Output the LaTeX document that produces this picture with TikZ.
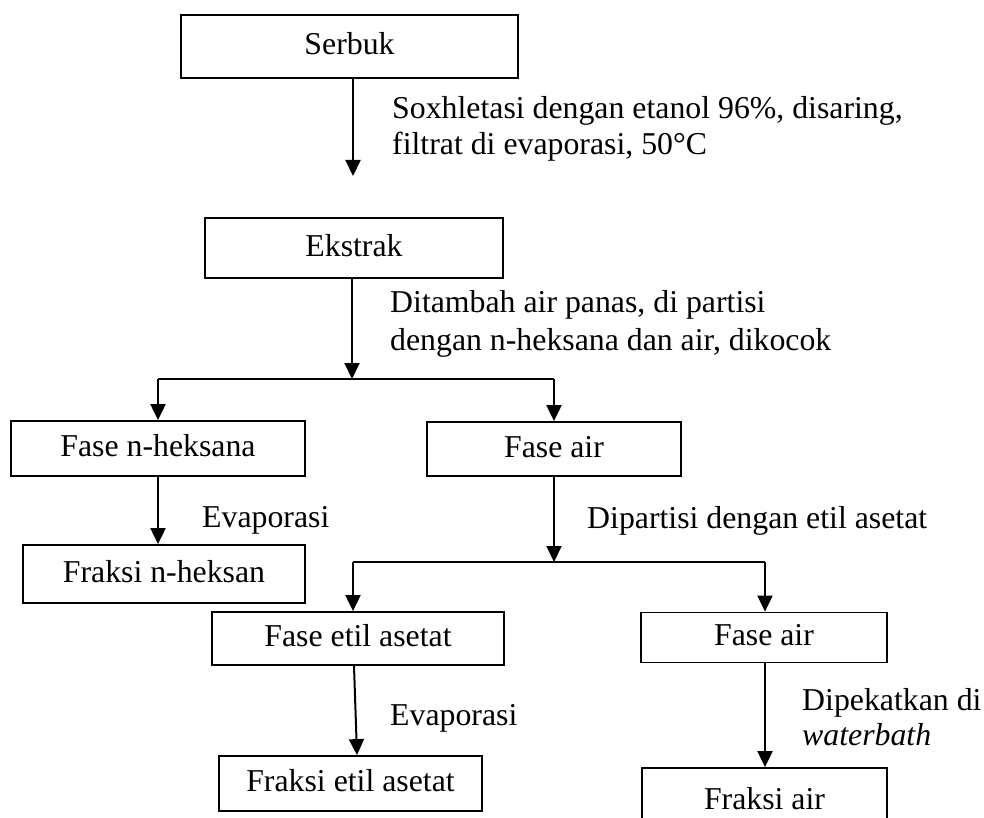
\documentclass[tikz,border=0pt]{standalone}
\usepackage{fontspec}
\setmainfont{Liberation Serif}
\usetikzlibrary{arrows.meta}
\begin{document}
\begin{tikzpicture}[x=1pt,y=-1pt,
  font=\fontsize{31.8}{38}\selectfont,
  box/.style={draw,line width=1.8pt,inner sep=0pt,text height=22pt,text depth=6pt},
  flow/.style={line width=2pt,-{Triangle[length=16pt,width=15pt]}},
  conn/.style={line width=2pt},
  lbl/.style={anchor=base west,inner sep=0pt}]
\clip (0,0) rectangle (984,818);
\fill[white] (0,0) rectangle (984,818);
% boxes
\node[box,minimum width=337pt,minimum height=63pt] (serbuk) at (349.5,46.5) {Serbuk};
\node[box,minimum width=298pt,minimum height=60pt] (ekstrak) at (354,248) {Ekstrak};
\node[box,minimum width=294pt,minimum height=55pt] (heks) at (158,448.5) {Fase n-heksana};
\node[box,minimum width=254pt,minimum height=54pt] (air1) at (554,449) {Fase air};
\node[box,minimum width=282pt,minimum height=58pt] (fheks) at (164,574) {Fraksi n-heksan};
\node[box,minimum width=292pt,minimum height=53pt] (etil) at (358,638.5) {Fase etil asetat};
\node[box,minimum width=246pt,minimum height=50pt] (air2) at (764,637.5) {Fase air};
\node[box,minimum width=263pt,minimum height=55pt] (fetil) at (350.5,783.5) {Fraksi etil asetat};
\node[box,minimum width=245pt,minimum height=66pt] (fair) at (764.5,801) {Fraksi air};
% junction coordinates
\coordinate (e1) at (353,176);
\coordinate (j1) at (352,379);
\coordinate (j1l) at (158,379);
\coordinate (j1r) at (554,379);
\coordinate (j2) at (554,562);
\coordinate (j2l) at (353,562);
\coordinate (j2r) at (765,562);
% connectors
\draw[flow] (353,0 |- serbuk.south) -- (e1);
\draw[flow] (352,0 |- ekstrak.south) -- (j1);
\draw[conn] (j1l) -- (j1r);
\draw[flow] (j1l) -- (158,0 |- heks.north);
\draw[flow] (j1r) -- (554,0 |- air1.north);
\draw[flow] (158,0 |- heks.south) -- (158,0 |- fheks.north);
\draw[flow] (554,0 |- air1.south) -- (j2);
\draw[conn] (j2l) -- (j2r);
\draw[flow] (j2l) -- (353,0 |- etil.north);
\draw[flow] (j2r) -- (765,0 |- air2.north);
\draw[flow] (354,0 |- etil.south) -- (357,0 |- fetil.north);
\draw[flow] (765,0 |- air2.south) -- (765,0 |- fair.north);
% labels
\node[lbl] (l1a) at (392,119) {Soxhletasi dengan etanol 96\%, disaring,};
\node[lbl] (l1b) at (392,155) {filtrat di evaporasi, 50°C};
\node[lbl] (l2a) at (390,312) {Ditambah air panas, di partisi};
\node[lbl] (l2b) at (390,350) {dengan n-heksana dan air, dikocok};
\node[lbl] (l3) at (202,527) {Evaporasi};
\node[lbl] (l4) at (587,528) {Dipartisi dengan etil asetat};
\node[lbl] (l5) at (390,725) {Evaporasi};
\node[lbl] (l6a) at (802,710) {Dipekatkan di};
\node[lbl] (l6b) at (802,745) {\itshape waterbath};
\end{tikzpicture}
\end{document}
